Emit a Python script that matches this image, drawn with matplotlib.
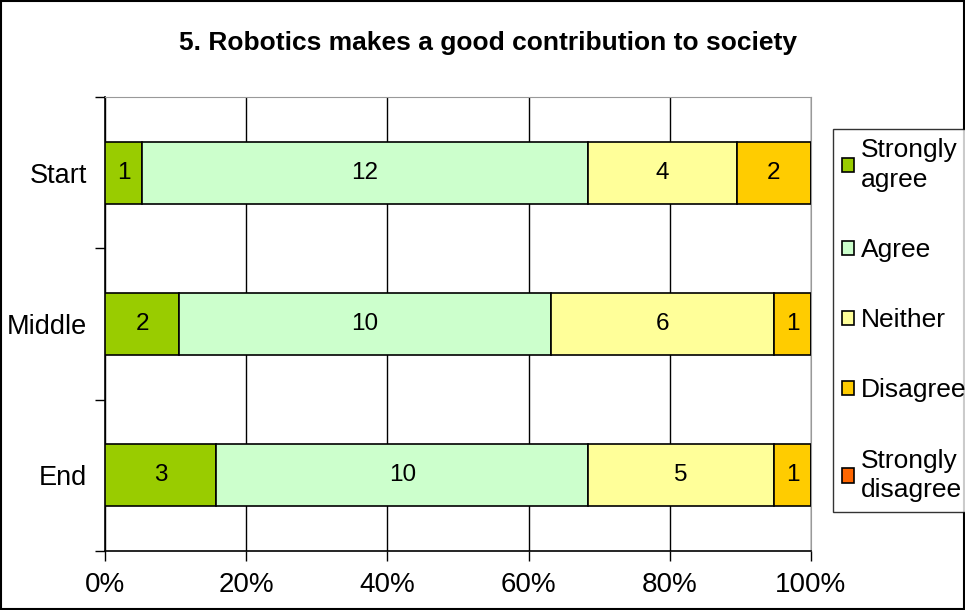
import matplotlib.pyplot as plt
from matplotlib.patches import Rectangle

plt.rcParams['font.family'] = ['Liberation Sans', 'DejaVu Sans']

# data
periods = ["Start", "Middle", "End"]
responses = ["Strongly\nagree", "Agree", "Neither", "Disagree", "Strongly\ndisagree"]
strongly_agree = [1, 2, 3]
agree = [12, 10, 10]
neither = [4, 6, 5]
disagree = [2, 1, 1]
strongly_disagree = [0, 0, 0]
x_ticks = [0, 20, 40, 60, 80, 100]
colors = ["#99CC00", "#CCFFCC", "#FFFF99", "#FFCC00", "#FF6600"]

series = [strongly_agree, agree, neither, disagree, strongly_disagree]
totals = [sum(s[i] for s in series) for i in range(len(periods))]

fig = plt.figure(figsize=(9.65, 6.1), dpi=100)
ax = fig.add_axes([0.1088, 0.0967, 0.7316, 0.7443])

ypos = list(range(len(periods)))
left = [0.0] * len(periods)
for vals, name, col in zip(series, responses, colors):
    pct = [100.0 * v / t for v, t in zip(vals, totals)]
    bars = ax.barh(ypos, pct, left=left, height=0.41, color=col,
                   edgecolor="black", linewidth=1.2, label=name, zorder=3)
    for b, v in zip(bars, vals):
        if v > 0:
            ax.text(b.get_x() + b.get_width() / 2, b.get_y() + b.get_height() / 2,
                    str(v), ha="center", va="center", fontsize=17.5, zorder=4)
    left = [l + p for l, p in zip(left, pct)]

ax.set_xlim(0, 100)
ax.set_ylim(len(periods) - 0.5, -0.5)
ax.set_xticks(x_ticks)
ax.set_xticklabels([f"{t}%" for t in x_ticks], fontsize=20)
ax.xaxis.grid(True, color="black", linewidth=1, zorder=0)
ax.tick_params(axis="x", length=7, width=1, pad=8)

ax.set_yticks([i - 0.5 for i in range(len(periods) + 1)])
ax.set_yticklabels([])
ax.set_yticks(ypos, minor=True)
ax.set_yticklabels(periods, minor=True, fontsize=19.5)
ax.tick_params(axis="y", which="major", length=7, width=1)
ax.tick_params(axis="y", which="minor", length=0, pad=13)

for s in ["top", "right"]:
    ax.spines[s].set_color("#999999")
for s in ["left", "bottom"]:
    ax.spines[s].set_linewidth(1.2)

fig.text(0.506, 0.9295, "5. Robotics makes a good contribution to society",
         ha="center", va="center", fontsize=19, fontweight="bold")

leg = fig.legend(loc="center left", bbox_to_anchor=(0.863, 0.475), fontsize=19,
                 frameon=True, fancybox=False, edgecolor="black",
                 handlelength=0.45, handleheight=0.45, handletextpad=0.25,
                 labelspacing=1.75, borderpad=0.35, borderaxespad=0)
leg.get_frame().set_linewidth(1)
for h in leg.legend_handles:
    h.set_edgecolor("black")
    h.set_linewidth(1.2)
for t in leg.get_texts():
    t.set_linespacing(1.3)

fig.patches.append(Rectangle((0.001, 0.001), 0.998, 0.997, transform=fig.transFigure,
                             fill=False, edgecolor="black", linewidth=1.5))

fig.savefig("out.png", dpi=100)
